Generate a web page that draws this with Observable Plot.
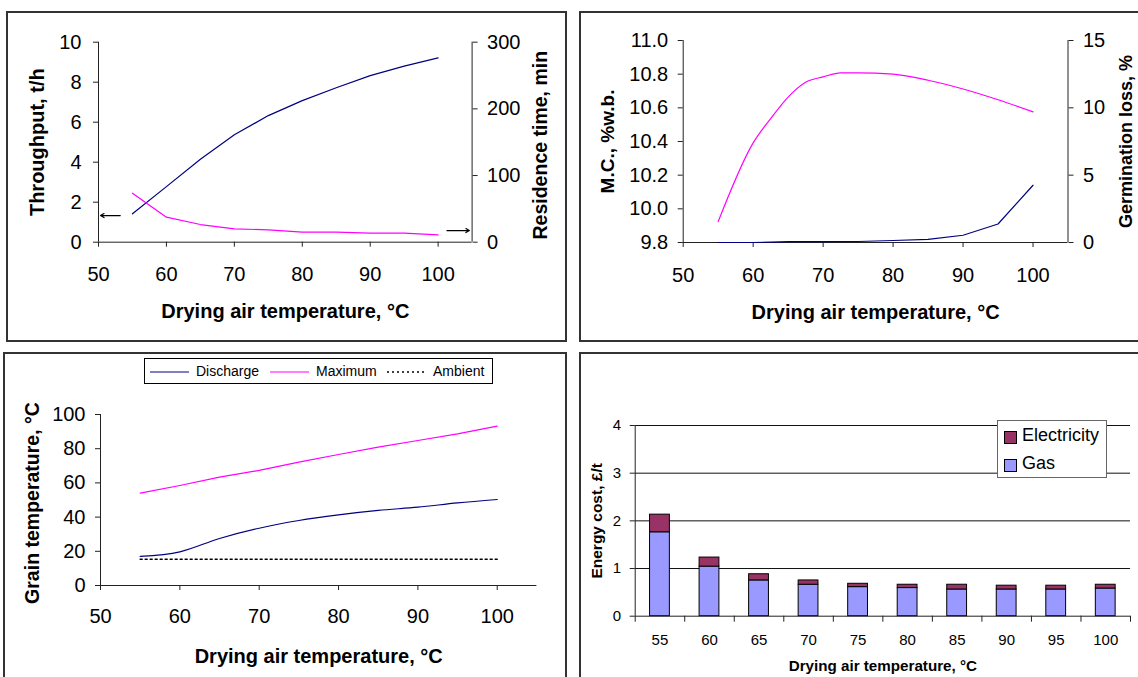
<!DOCTYPE html>
<html><head><meta charset="utf-8">
<script src="https://cdn.jsdelivr.net/npm/d3@7"></script>
<script src="https://cdn.jsdelivr.net/npm/@observablehq/plot@0.6"></script>
<style>
body{margin:0;background:#fff;}
#root{position:relative;width:1138px;height:677px;overflow:hidden;background:#fff;font-family:Arial,"Liberation Sans",sans-serif;}
.panel{position:absolute;border:2px solid #333;box-sizing:border-box;}
.layer{position:absolute;}
.layer svg{display:block;max-width:none;}
.legend{position:absolute;background:#fff;box-sizing:border-box;color:#000;}
.legend span{position:absolute;white-space:nowrap;}
</style></head><body><div id="root"></div>
<script>
// ---------- data ----------
const temps = [55, 60, 65, 70, 75, 80, 85, 90, 95, 100];
const throughput = [1.42, 2.78, 4.15, 5.37, 6.33, 7.08, 7.72, 8.33, 8.8, 9.22];       // t/h
const residenceTime = [73.5, 37.5, 26.5, 20, 18.5, 15, 15, 13.5, 13.5, 11];          // min
const moistureContent = [9.80, 9.80, 9.805, 9.805, 9.806, 9.812, 9.818, 9.843, 9.91, 10.14]; // % w.b.
const germTemps = [55, 60, 62.5, 65, 67.5, 70, 72.5, 75, 80, 85, 90, 95, 100];
const germinationLoss = [1.55, 7.4, 9.2, 10.8, 11.9, 12.3, 12.6, 12.6, 12.5, 12.05, 11.4, 10.6, 9.7]; // %
const dischargeTemp = [17.0, 19.7, 27.5, 33.5, 38, 41.3, 43.9, 45.8, 48.3, 50.3];
const maximumTemp = [54, 58.5, 63.4, 67.3, 72.1, 76.6, 80.9, 84.8, 88.7, 93.2];
const ambientTemp = [15.4, 15.4, 15.4, 15.4, 15.4, 15.4, 15.4, 15.4, 15.4, 15.4];
const gasCost = [1.76, 1.04, 0.75, 0.66, 0.61, 0.59, 0.56, 0.56, 0.56, 0.58];        // £/t
const electricityCost = [0.37, 0.19, 0.13, 0.09, 0.07, 0.07, 0.10, 0.08, 0.08, 0.08];
const xTicks = [50, 60, 70, 80, 90, 100];
const throughputTicks = [0, 2, 4, 6, 8, 10];
const residenceTicks = [0, 100, 200, 300];
const mcTicks = [9.8, 10.0, 10.2, 10.4, 10.6, 10.8, 11.0];
const germTicks = [0, 5, 10, 15];
const grainTicks = [0, 20, 40, 60, 80, 100];
const costTicks = [0, 1, 2, 3, 4];
const categoryBounds = [52.5, 57.5, 62.5, 67.5, 72.5, 77.5, 82.5, 87.5, 92.5, 97.5, 102.5];
const arrows = [{x1: 53.2, y1: 1.33, x2: 50.3, y2: 1.33}, {x1: 101.3, y1: 0.58, x2: 104.6, y2: 0.58}];
const xTitle = "Drying air temperature, °C";

// ---------- helpers ----------
const root = document.getElementById("root");
const FONT = "Arial, 'Liberation Sans', sans-serif";
const NAVY = "#000080", MAGENTA = "#FF00FF";
function place(svg, left, top) {
  const d = document.createElement("div");
  d.className = "layer"; d.style.left = left + "px"; d.style.top = top + "px";
  d.appendChild(svg); root.appendChild(d);
}
function box(l, t, w, h) {
  const d = document.createElement("div");
  d.className = "panel";
  Object.assign(d.style, {left: l + "px", top: t + "px", width: w + "px", height: h + "px"});
  root.appendChild(d);
}
const style = (fs) => ({background: "transparent", fontFamily: FONT, fontSize: fs + "px", color: "black", overflow: "visible"});
const rows = (xs, ys) => xs.map((x, i) => ({x, y: ys[i]}));
const yTitle = (txt, anchor, dx, fs, dy = 0) =>
  Plot.text([txt], {frameAnchor: anchor, textAnchor: "middle", lineAnchor: "middle", dx, dy, rotate: -90, fontWeight: "bold", fontSize: fs});
const xTitleMark = (dy, fs) =>
  Plot.text([xTitle], {frameAnchor: "bottom", textAnchor: "middle", lineAnchor: "bottom", dy, fontWeight: "bold", fontSize: fs});

box(6, 11, 561, 331);
box(579, 11, 600, 331);
box(3, 352, 564, 400);
box(579, 352, 600, 400);

// ---------- panel 1: throughput / residence time ----------
const p1 = {width: 559, height: 329, marginLeft: 91, marginRight: 94.4, marginTop: 29.7, marginBottom: 99.3};
place(Plot.plot({
  ...p1, style: style(20),
  x: {domain: [50, 105]}, y: {domain: [0, 10]},
  marks: [
    Plot.ruleY([0], {stroke: "#222"}), Plot.ruleX([50], {stroke: "#222"}),
    Plot.axisX({ticks: xTicks, tickSize: 5, tickPadding: 20, label: null, stroke: "#222"}),
    Plot.axisY({ticks: throughputTicks, tickSize: 5, tickPadding: 12, label: null, stroke: "#222"}),
    Plot.line(rows(temps, throughput), {x: "x", y: "y", stroke: NAVY, strokeWidth: 1.2}),
    Plot.arrow(arrows, {x1: "x1", y1: "y1", x2: "x2", y2: "y2", stroke: "black", strokeWidth: 1.2, headLength: 5}),
    yTitle("Throughput, t/h", "left", -60.6, 20),
    xTitleMark(75.3, 20)
  ]
}), 7, 12);
place(Plot.plot({
  ...p1, style: style(20),
  x: {domain: [50, 105], axis: null}, y: {domain: [0, 300], axis: null},
  marks: [
    Plot.ruleX([105], {stroke: "#222"}),
    Plot.axisY({anchor: "right", ticks: residenceTicks, tickSize: 5, tickPadding: 10, label: null, stroke: "#222"}),
    Plot.line(rows(temps, residenceTime), {x: "x", y: "y", stroke: MAGENTA, strokeWidth: 1.2}),
    yTitle("Residence time, min", "right", 68.4, 19.5, 3)
  ]
}), 7, 12);

// ---------- panel 2: moisture content / germination loss ----------
const p2 = {width: 558, height: 329, marginLeft: 102.7, marginRight: 70.5, marginTop: 28, marginBottom: 99};
place(Plot.plot({
  ...p2, style: style(20),
  x: {domain: [50, 105]}, y: {domain: [9.8, 11.0]},
  marks: [
    Plot.ruleY([9.8], {stroke: "#222"}), Plot.ruleX([50], {stroke: "#222"}),
    Plot.axisX({ticks: xTicks, tickSize: 5, tickPadding: 20, label: null, stroke: "#222"}),
    Plot.axisY({ticks: mcTicks, tickFormat: d3.format(".1f"), tickSize: 5, tickPadding: 10, label: null, stroke: "#222"}),
    Plot.line(rows(temps, moistureContent), {x: "x", y: "y", stroke: NAVY, strokeWidth: 1.2}),
    yTitle("M.C., %w.b.", "left", -75.7, 19),
    xTitleMark(76, 20)
  ]
}), 580, 12);
place(Plot.plot({
  ...p2, style: style(20),
  x: {domain: [50, 105], axis: null}, y: {domain: [0, 15], axis: null},
  marks: [
    Plot.ruleX([105], {stroke: "#222"}),
    Plot.axisY({anchor: "right", ticks: germTicks, tickSize: 5, tickPadding: 10, label: null, stroke: "#222"}),
    Plot.line(rows(germTemps, germinationLoss), {x: "x", y: "y", stroke: MAGENTA, strokeWidth: 1.2, curve: "monotone-x"}),
    yTitle("Germination loss, %", "right", 58.5, 18)
  ]
}), 580, 12);

// ---------- panel 3: grain temperatures ----------
place(Plot.plot({
  width: 562, height: 324, marginLeft: 96, marginRight: 29.6, marginTop: 61, marginBottom: 92,
  style: style(20),
  x: {domain: [50, 105]}, y: {domain: [0, 100]},
  marks: [
    Plot.ruleY([0], {stroke: "#222"}), Plot.ruleX([50], {stroke: "#222"}),
    Plot.axisX({ticks: xTicks, tickSize: 5, tickPadding: 18, label: null, stroke: "#222"}),
    Plot.axisY({ticks: grainTicks, tickSize: 5, tickPadding: 10, label: null, stroke: "#222"}),
    Plot.line(rows(temps, maximumTemp), {x: "x", y: "y", stroke: MAGENTA, strokeWidth: 1.2}),
    Plot.line(rows(temps, dischargeTemp), {x: "x", y: "y", stroke: NAVY, strokeWidth: 1.2, curve: "monotone-x"}),
    Plot.line(rows(temps, ambientTemp), {x: "x", y: "y", stroke: "black", strokeWidth: 1.5, strokeDasharray: "2,3"}),
    yTitle("Grain temperature, °C", "left", -68, 19.5, 3),
    xTitleMark(77, 20)
  ]
}), 4, 353);

// legend for panel 3
(function () {
  const lg = document.createElement("div");
  lg.className = "legend";
  Object.assign(lg.style, {left: "144px", top: "358px", width: "349px", height: "26px", border: "1px solid #000", fontSize: "14px"});
  const items = [
    {label: "Discharge", color: NAVY, dash: null, lx: 5, tx: 51},
    {label: "Maximum", color: MAGENTA, dash: null, lx: 125, tx: 171},
    {label: "Ambient", color: "#000", dash: "2,3", lx: 242, tx: 288}
  ];
  let html = "";
  for (const it of items) {
    html += `<svg style="position:absolute;left:${it.lx}px;top:11px" width="39" height="4"><line x1="0" y1="2" x2="39" y2="2" stroke="${it.color}" stroke-width="${it.dash ? 1.5 : 1.2}" ${it.dash ? `stroke-dasharray="${it.dash}"` : ""}/></svg>`;
    html += `<span style="left:${it.tx}px;top:4px">${it.label}</span>`;
  }
  lg.innerHTML = html;
  root.appendChild(lg);
})();

// ---------- panel 4: energy cost ----------
const energyRows = [];
temps.forEach((t, i) => energyRows.push({t, source: "Gas", v: gasCost[i]}));
temps.forEach((t, i) => energyRows.push({t, source: "Electricity", v: electricityCost[i]}));
place(Plot.plot({
  width: 558, height: 324, marginLeft: 54.7, marginRight: 8, marginTop: 72, marginBottom: 61.3,
  style: style(15),
  x: {domain: [52.5, 102.5]}, y: {domain: [0, 4]},
  color: {domain: ["Electricity", "Gas"], range: ["#993366", "#9999FF"]},
  marks: [
    Plot.gridY({ticks: [1, 2, 3, 4], stroke: "#111", strokeOpacity: 1}),
    Plot.rectY(energyRows, {x1: d => d.t - 1, x2: d => d.t + 1, y: "v", fill: "source", stroke: "black", strokeWidth: 1}),
    Plot.ruleY([0], {stroke: "#222"}), Plot.ruleX([52.5], {stroke: "#222"}),
    Plot.axisX({ticks: categoryBounds, tickFormat: () => "", tickSize: 6, label: null, stroke: "#222"}),
    Plot.axisX({ticks: temps, tickSize: 0, tickPadding: 18, label: null}),
    Plot.axisY({ticks: costTicks, tickFormat: d3.format("d"), tickSize: 5, tickPadding: 9, label: null, stroke: "#222"}),
    yTitle("Energy cost, £/t", "left", -37.7, 15.5),
    xTitleMark(55, 15.2)
  ]
}), 580, 353);

// legend for panel 4
(function () {
  const lg = document.createElement("div");
  lg.className = "legend";
  Object.assign(lg.style, {left: "997px", top: "420px", width: "110px", height: "58px", border: "1px solid #666", fontSize: "18px"});
  lg.innerHTML =
    `<div style="position:absolute;left:6px;top:10px;width:11px;height:11px;background:#993366;border:1px solid #000"></div>` +
    `<span style="left:24px;top:4px">Electricity</span>` +
    `<div style="position:absolute;left:6px;top:38px;width:11px;height:11px;background:#9999FF;border:1px solid #000"></div>` +
    `<span style="left:24px;top:32px">Gas</span>`;
  root.appendChild(lg);
})();
</script>
</body></html>
